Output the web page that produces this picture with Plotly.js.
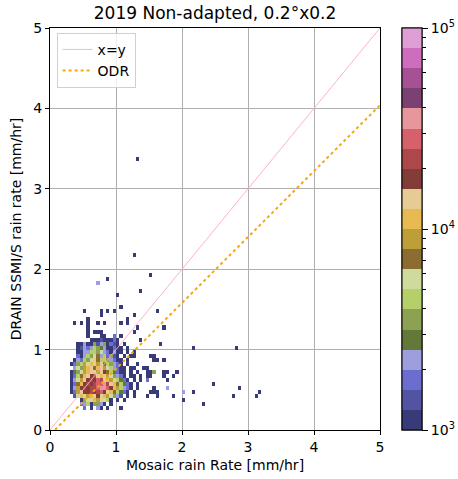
<!DOCTYPE html>
<html>
<head>
<meta charset="utf-8">
<script src="https://cdn.plot.ly/plotly-3.0.1.min.js"></script>
<style>html,body{margin:0;padding:0;background:#fff;}#chart{width:458px;height:479px;}</style>
</head>
<body>
<div id="chart"></div>
<script>
// tab20b colour levels (20 discrete steps, log scale 1e3..1e5)
const levelColors = ['#393b79','#5254a3','#6b6ecf','#9c9ede','#637939','#8ca252','#b5cf6b','#cedb9c',
  '#8c6d31','#bd9e39','#e7ba52','#e7cb94','#843c39','#ad494a','#d6616b','#e7969c',
  '#7b4173','#a55194','#ce6dbd','#de9ed6'];

// Dense core of the 2D histogram: bin size 0.05, columns start at x=0.30, rows listed from y=1.45 down to y=0.25
// characters: '.' empty, '0'-'9','a'-'j' colour level (0..19)
const coreX0 = 0.30;
const coreYTop = 1.45;
const binSize = 0.05;
const coreRows = [
  "....0....0.0.0..........",
  ".........0.........0....",
  ".....0...........0......",
  ".0.0.0..0.0....0.0......",
  ".....0..............0...",
  ".....0.000.........0....",
  ".....0...00..2.0........",
  "......000100020......0..",
  "..0030051350210.0.......",
  "..01323654300200.0......",
  "..00336657320300.0.0....",
  "..2036578362510.0.00....",
  ".032657b86a53200.0......",
  "025697ab9b865320.0..0...",
  ".3759ab8ab9763200.00..00",
  "04579abb9bc864200.0.0..0",
  "0268abcdbab975320.00.0.0",
  "0379bcdcedba976420.0.0..",
  "028acdcdeefdba86420.0...",
  "039cdcddeffeca96320.0...",
  "029bccdcdecba86420.0....",
  ".17ab9abcba97531.0.0....",
  "...057ba9b760.0.0.......",
  "...23605530.0...........",
  "....2.0.30.0............"
];

// Scattered outlying bins (lower-left corner of bin) and their colour level
const outX = [1.30,1.25,1.50,0.85,0.70,1.00,1.35,1.05,1.60,1.70,1.65,2.15,2.80,1.50,1.55,1.60,1.55,1.70,
  1.90,1.85,1.70,1.70,1.55,1.50,1.75,1.75,1.50,1.55,1.60,1.55,1.75,1.60,1.85,2.00,2.00,2.15,2.30,2.45,
  2.75,2.85,3.10,3.15,1.45,1.05,1.45,1.50];
const outY = [3.35,2.15,1.90,1.85,1.80,1.65,1.70,1.50,1.45,1.25,1.05,1.00,1.00,0.90,0.90,0.85,0.85,0.85,
  0.70,0.65,0.70,0.65,0.70,0.65,0.70,0.60,0.45,0.50,0.45,0.45,0.50,0.40,0.40,0.45,0.35,0.45,0.30,0.55,
  0.40,0.50,0.40,0.45,0.40,0.25,0.60,0.70];
const outLevel = [0,0,0,0,3,0,0,0,0,0,0,0,0,0,0,0,0,0,
  0,0,0,0,5,0,0,0,0,0,0,0,3,0,0,3,0,0,0,0,
  0,0,0,0,0,0,2,0];

// Lines
const diagX = [0, 5], diagY = [0, 5];
const odrSlope = 0.82, odrIntercept = -0.06;
const odrX = [0.075, 5];

const xTicks = [0,1,2,3,4,5];
const yTicks = [0,1,2,3,4,5];

// ---- build counts grid ----
const nBins = Math.round(5 / binSize);
const levelToCount = L => Math.pow(10, 3 + (L + 0.5) / 10);
const grid = [];
for (let r = 0; r < nBins; r++) { grid.push(new Array(nBins).fill(null)); }
function put(x, y, count) {
  const c = Math.round(x / binSize), r = Math.round(y / binSize);
  if (c >= 0 && c < nBins && r >= 0 && r < nBins) grid[r][c] = Math.log10(count);
}
coreRows.forEach((row, i) => {
  const y = coreYTop - i * binSize;
  for (let j = 0; j < row.length; j++) {
    const ch = row[j];
    if (ch === '.') continue;
    const L = parseInt(ch, 20);
    put(coreX0 + j * binSize, y, levelToCount(L));
  }
});
outX.forEach((x, i) => put(x, outY[i], levelToCount(outLevel[i])));

// discrete colour scale
const cs = [];
levelColors.forEach((c, i) => { cs.push([i / 20, c]); cs.push([(i + 1) / 20, c]); });

const minorVals = [];
[3, 4].forEach(e => { for (let k = 2; k <= 9; k++) minorVals.push(e + Math.log10(k)); });

const cbCommon = {
  x: 402 / 458, xanchor: 'left', xref: 'container',
  y: 0, yanchor: 'bottom', yref: 'paper', len: 1, lenmode: 'fraction',
  thickness: 20, thicknessmode: 'pixels', xpad: 0, ypad: 0,
  outlinewidth: 1, outlinecolor: '#000',
  ticks: 'outside', tickcolor: '#000', tickwidth: 1,
  tickfont: {family: 'DejaVu Sans', size: 14, color: '#000'}
};

const traces = [
  {
    type: 'heatmap', z: grid, x0: binSize / 2, dx: binSize, y0: binSize / 2, dy: binSize,
    zmin: 3, zmax: 5, colorscale: cs, hoverinfo: 'skip', showlegend: false,
    colorbar: Object.assign({}, cbCommon, {
      tickmode: 'array', tickvals: [3, 4, 5], ticktext: ['10<sup>3</sup>', '10<sup>4</sup>', '10<sup>5</sup>'],
      ticklen: 6
    })
  },
  {
    type: 'heatmap', z: [[4]], x: [-10], y: [-10], zmin: 3, zmax: 5, colorscale: cs,
    hoverinfo: 'skip', showlegend: false,
    colorbar: Object.assign({}, cbCommon, {
      tickmode: 'array', tickvals: minorVals, showticklabels: false, ticklen: 3.5
    })
  },
  {
    type: 'scatter', mode: 'lines', x: diagX, y: diagY, name: 'x=y',
    line: {color: 'rgba(255,170,185,0.9)', width: 1}, hoverinfo: 'skip'
  },
  {
    type: 'scatter', mode: 'lines', x: odrX, y: odrX.map(v => odrSlope * v + odrIntercept), name: 'ODR',
    line: {color: '#ffa500', width: 2, dash: 'dot'}, hoverinfo: 'skip'
  }
];

const axisCommon = {
  range: [0, 5], tickmode: 'array', ticks: 'outside', ticklen: 4, tickcolor: '#000', tickwidth: 1,
  showline: true, linecolor: '#000', linewidth: 1, mirror: true,
  showgrid: true, gridcolor: '#b0b0b0', gridwidth: 1, zeroline: false,
  tickfont: {family: 'DejaVu Sans', size: 14, color: '#000'}
};

const layout = {
  width: 458, height: 479,
  margin: {l: 50, r: 78, t: 28, b: 49, autoexpand: false},
  paper_bgcolor: '#fff', plot_bgcolor: '#fff',
  font: {family: 'DejaVu Sans', color: '#000'},
  title: {text: '2019 Non-adapted, 0.2°x0.2', font: {family: 'DejaVu Sans', size: 17, color: '#000'},
    x: 0.5, xref: 'paper', y: 0.972, yref: 'container', yanchor: 'middle'},
  xaxis: Object.assign({}, axisCommon, {tickvals: xTicks,
    title: {text: 'Mosaic rain Rate [mm/hr]', font: {family: 'DejaVu Sans', size: 14, color: '#000'}, standoff: 6}}),
  yaxis: Object.assign({}, axisCommon, {tickvals: yTicks,
    title: {text: 'DRAIN SSMI/S rain rate [mm/hr]', font: {family: 'DejaVu Sans', size: 14, color: '#000'}, standoff: 8}}),
  legend: {x: 0.02, y: 0.988, xanchor: 'left', yanchor: 'top', bgcolor: 'rgba(255,255,255,0.8)',
    bordercolor: '#d0d0d0', borderwidth: 1, font: {family: 'DejaVu Sans', size: 14, color: '#000'}}
};

Plotly.newPlot('chart', traces, layout, {staticPlot: true, displayModeBar: false});
</script>
</body>
</html>
